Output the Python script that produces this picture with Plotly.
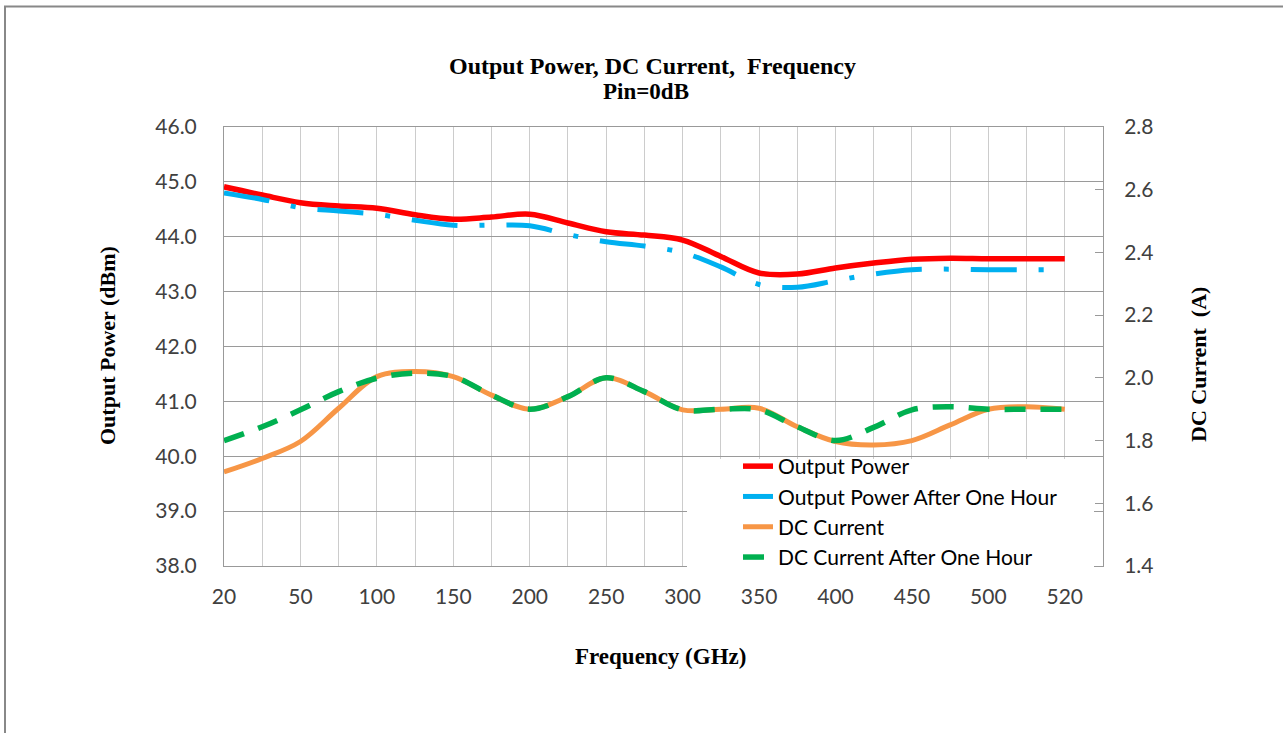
import plotly.graph_objects as go

# ---------------- data ----------------
freq_labels = ["20", "50", "100", "150", "200", "250", "300", "350", "400", "450", "500", "520"]

output_power = [44.91, 44.76, 44.62, 44.56, 44.52, 44.40, 44.32, 44.36, 44.41, 44.25, 44.09, 44.03,
                43.94, 43.64, 43.34, 43.32, 43.43, 43.52, 43.59, 43.61, 43.60, 43.60, 43.60]
output_power_1h = [44.80, 44.68, 44.53, 44.47, 44.41, 44.30, 44.21, 44.21, 44.20, 44.04, 43.91, 43.83,
                   43.71, 43.45, 43.13, 43.08, 43.20, 43.32, 43.40, 43.41, 43.40, 43.40, 43.40]
dc_current = [1.70, 1.743, 1.797, 1.903, 2.004, 2.02, 2.004, 1.945, 1.90, 1.94, 2.00, 1.956,
              1.898, 1.90, 1.903, 1.844, 1.797, 1.786, 1.80, 1.85, 1.90, 1.908, 1.90]
dc_current_1h = [1.80, 1.844, 1.898, 1.956, 1.999, 2.015, 2.004, 1.945, 1.90, 1.94, 2.00, 1.956,
                 1.898, 1.90, 1.898, 1.844, 1.80, 1.842, 1.898, 1.908, 1.90, 1.90, 1.90]

series_names = ["Output Power", "Output Power After One Hour", "DC Current", "DC Current After One Hour"]

# ---------------- layout constants ----------------
W, H = 1283, 733
PL, PR, PT, PB = 224, 1103, 127, 566   # plot area in pixels
pw, ph = PR - PL, PB - PT


def px(xp):
    return (xp - PL) / pw


def py(yp):
    return (PB - yp) / ph


x_idx = list(range(len(output_power)))
n_slots = len(output_power)  # last slot is empty in the original category axis
tick_pos = list(range(0, len(output_power), 2))

tick_font = dict(family="Lato, Carlito, sans-serif", size=21, color="#404040")
serif_bold = dict(family="Liberation Serif, Times New Roman, serif", color="#000000")

fig = go.Figure()
fig.add_trace(go.Scatter(x=x_idx, y=output_power, name=series_names[0], mode="lines",
                         line=dict(color="#FF0000", width=5.5, shape="spline")))
fig.add_trace(go.Scatter(x=x_idx, y=output_power_1h, name=series_names[1], mode="lines",
                         line=dict(color="#00B0F0", width=5, shape="spline", dash="46px,22px,5px,22px")))
fig.add_trace(go.Scatter(x=x_idx, y=dc_current, name=series_names[2], mode="lines", yaxis="y2",
                         line=dict(color="#F79646", width=5, shape="spline")))
fig.add_trace(go.Scatter(x=x_idx, y=dc_current_1h, name=series_names[3], mode="lines", yaxis="y2",
                         line=dict(color="#00B050", width=5.5, shape="spline", dash="21px,15px")))

fig.update_layout(
    width=W, height=H,
    margin=dict(l=PL, r=W - PR, t=PT, b=H - PB, pad=0),
    paper_bgcolor="white", plot_bgcolor="white",
    showlegend=True,
    xaxis=dict(
        range=[0, n_slots], tickmode="array", tickvals=tick_pos, ticktext=freq_labels,
        showgrid=True, gridcolor="#cccccc", gridwidth=1,
        minor=dict(tickmode="linear", tick0=0, dtick=1, showgrid=True, gridcolor="#cccccc", gridwidth=1),
        showline=True, linecolor="#999999", linewidth=1, mirror=True,
        zeroline=False, ticks="", tickfont=tick_font, ticklabelstandoff=12,
    ),
    yaxis=dict(
        range=[38, 46], tick0=38, dtick=1, tickformat=".1f",
        showgrid=True, gridcolor="#9a9a9a", gridwidth=1,
        showline=True, linecolor="#999999", linewidth=1,
        zeroline=False, ticks="", tickfont=tick_font, ticklabelstandoff=22,
    ),
    yaxis2=dict(
        range=[1.4, 2.8], tick0=1.4, dtick=0.2, tickformat=".1f",
        overlaying="y", side="right", showgrid=False,
        showline=True, linecolor="#999999", linewidth=1,
        zeroline=False, ticks="inside", ticklen=8, tickcolor="#999999",
        tickfont=tick_font, ticklabelstandoff=16,
    ),
    legend=dict(
        x=px(738), y=py(578), xanchor="left", yanchor="bottom",
        bgcolor="rgba(0,0,0,0)", borderwidth=0,
        font=dict(family="Lato, Carlito, sans-serif", size=21, color="#000000"),
        itemwidth=30, tracegroupgap=0,
    ),
    annotations=[
        dict(text="<b>Output Power, DC Current,  Frequency</b>", xref="paper", yref="paper",
             x=px(652), y=py(66), xanchor="center", yanchor="middle", showarrow=False,
             font=dict(size=24, **serif_bold)),
        dict(text="<b>Pin=0dB</b>", xref="paper", yref="paper",
             x=px(646), y=py(91), xanchor="center", yanchor="middle", showarrow=False,
             font=dict(size=23, **serif_bold)),
        dict(text="<b>Frequency (GHz)</b>", xref="paper", yref="paper",
             x=px(660), y=py(656), xanchor="center", yanchor="middle", showarrow=False,
             font=dict(size=23, **serif_bold)),
        dict(text="<b>Output Power (dBm)</b>", xref="paper", yref="paper", textangle=-90,
             x=px(107), y=py(345), xanchor="center", yanchor="middle", showarrow=False,
             font=dict(size=22, **serif_bold)),
        dict(text="<b>DC Current  (A)</b>", xref="paper", yref="paper", textangle=-90,
             x=px(1198), y=py(365), xanchor="center", yanchor="middle", showarrow=False,
             font=dict(size=22, **serif_bold)),
    ],
    shapes=[
        # white legend backdrop (hides gridlines and axis line under the legend, as in the original)
        dict(type="rect", xref="paper", yref="paper", layer="above",
             x0=px(687), x1=px(1094), y0=py(571), y1=py(459),
             fillcolor="white", line=dict(width=0)),
        dict(type="line", xref="paper", yref="paper", x0=px(5), x1=px(5), y0=py(6), y1=py(H + 5),
             line=dict(color="#888888", width=2)),
        dict(type="line", xref="paper", yref="paper", x0=px(4), x1=px(W + 5), y0=py(6.5), y1=py(6.5),
             line=dict(color="#888888", width=2)),
    ],
)

fig.write_html("out.html", config={"displayModeBar": False},
               post_script="document.body.style.margin='0';document.body.style.overflow='hidden';")
